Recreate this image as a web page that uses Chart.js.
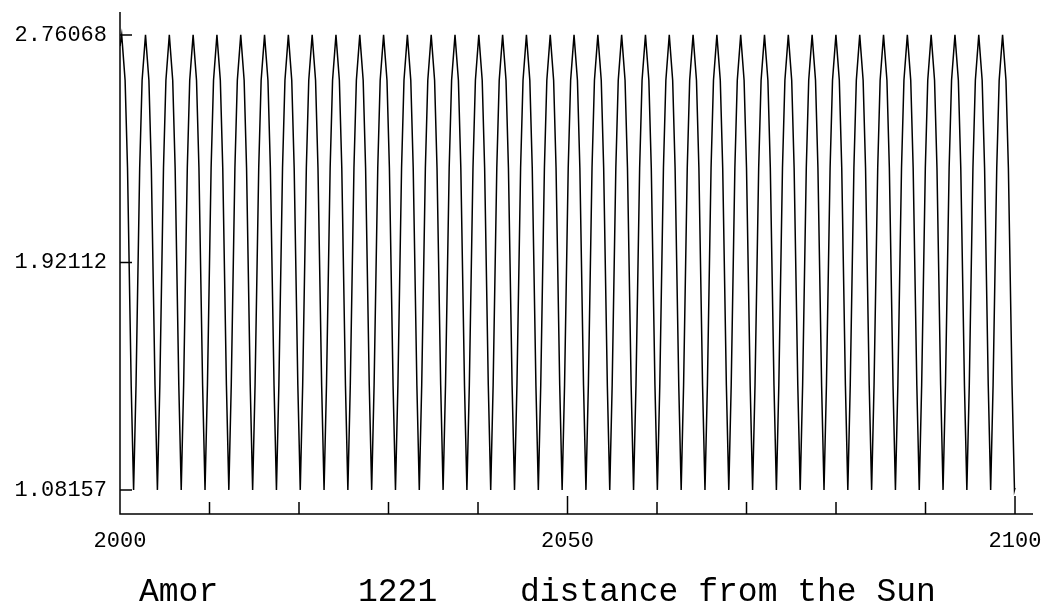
<!DOCTYPE html>
<html>
<head>
<meta charset="utf-8">
<script src="https://cdn.jsdelivr.net/npm/chart.js@4/dist/chart.umd.min.js"></script>
<style>
  html, body { margin: 0; padding: 0; background: #fff; }
  canvas { display: block; }
</style>
</head>
<body>
<canvas id="grafico" width="1044" height="605"></canvas>
<script>
// Amor (1221) — distancia al Sol, 2000-2100

const years = [
  2000.00,
  2000.19, 2000.57, 2000.84, 2001.25, 2001.52, 2001.79, 2002.20, 2002.47,
  2002.85, 2003.23, 2003.50, 2003.91, 2004.18, 2004.45, 2004.86, 2005.13,
  2005.51, 2005.89, 2006.16, 2006.57, 2006.84, 2007.11, 2007.52, 2007.79,
  2008.17, 2008.55, 2008.82, 2009.23, 2009.50, 2009.77, 2010.18, 2010.45,
  2010.83, 2011.21, 2011.48, 2011.89, 2012.16, 2012.43, 2012.84, 2013.11,
  2013.49, 2013.87, 2014.14, 2014.55, 2014.82, 2015.09, 2015.50, 2015.77,
  2016.15, 2016.53, 2016.80, 2017.21, 2017.48, 2017.75, 2018.16, 2018.43,
  2018.81, 2019.19, 2019.46, 2019.87, 2020.14, 2020.41, 2020.82, 2021.09,
  2021.47, 2021.85, 2022.12, 2022.53, 2022.80, 2023.07, 2023.48, 2023.75,
  2024.13, 2024.51, 2024.78, 2025.19, 2025.46, 2025.73, 2026.14, 2026.41,
  2026.79, 2027.17, 2027.44, 2027.85, 2028.12, 2028.39, 2028.80, 2029.07,
  2029.45, 2029.83, 2030.10, 2030.51, 2030.78, 2031.05, 2031.46, 2031.73,
  2032.11, 2032.49, 2032.76, 2033.17, 2033.44, 2033.71, 2034.12, 2034.39,
  2034.77, 2035.15, 2035.42, 2035.83, 2036.10, 2036.37, 2036.78, 2037.05,
  2037.43, 2037.81, 2038.08, 2038.49, 2038.76, 2039.03, 2039.44, 2039.71,
  2040.09, 2040.47, 2040.74, 2041.15, 2041.42, 2041.69, 2042.10, 2042.37,
  2042.75, 2043.13, 2043.40, 2043.81, 2044.08, 2044.35, 2044.76, 2045.03,
  2045.41, 2045.79, 2046.06, 2046.47, 2046.74, 2047.01, 2047.42, 2047.69,
  2048.07, 2048.45, 2048.72, 2049.13, 2049.40, 2049.67, 2050.08, 2050.35,
  2050.73, 2051.11, 2051.38, 2051.79, 2052.06, 2052.33, 2052.74, 2053.01,
  2053.39, 2053.77, 2054.04, 2054.45, 2054.72, 2054.99, 2055.40, 2055.67,
  2056.05, 2056.43, 2056.70, 2057.11, 2057.38, 2057.65, 2058.06, 2058.33,
  2058.71, 2059.09, 2059.36, 2059.77, 2060.04, 2060.31, 2060.72, 2060.99,
  2061.37, 2061.75, 2062.02, 2062.43, 2062.70, 2062.97, 2063.38, 2063.65,
  2064.03, 2064.41, 2064.68, 2065.09, 2065.36, 2065.63, 2066.04, 2066.31,
  2066.69, 2067.07, 2067.34, 2067.75, 2068.02, 2068.29, 2068.70, 2068.97,
  2069.35, 2069.73, 2070.00, 2070.41, 2070.68, 2070.95, 2071.36, 2071.63,
  2072.01, 2072.39, 2072.66, 2073.07, 2073.34, 2073.61, 2074.02, 2074.29,
  2074.67, 2075.05, 2075.32, 2075.73, 2076.00, 2076.27, 2076.68, 2076.95,
  2077.33, 2077.71, 2077.98, 2078.39, 2078.66, 2078.93, 2079.34, 2079.61,
  2079.99, 2080.37, 2080.64, 2081.05, 2081.32, 2081.59, 2082.00, 2082.27,
  2082.65, 2083.03, 2083.30, 2083.71, 2083.98, 2084.25, 2084.66, 2084.93,
  2085.31, 2085.69, 2085.96, 2086.37, 2086.64, 2086.91, 2087.32, 2087.59,
  2087.97, 2088.35, 2088.62, 2089.03, 2089.30, 2089.57, 2089.98, 2090.25,
  2090.63, 2091.01, 2091.28, 2091.69, 2091.96, 2092.23, 2092.64, 2092.91,
  2093.29, 2093.67, 2093.94, 2094.35, 2094.62, 2094.89, 2095.30, 2095.57,
  2095.95, 2096.33, 2096.60, 2097.01, 2097.28, 2097.55, 2097.96, 2098.23,
  2098.61, 2098.99, 2099.26, 2099.67, 2099.94, 2100.00
];

const distance = [
  2.720,
  2.761, 2.594, 2.271, 1.468, 1.082, 1.468, 2.271, 2.594,
  2.761, 2.594, 2.271, 1.468, 1.082, 1.468, 2.271, 2.594,
  2.761, 2.594, 2.271, 1.468, 1.082, 1.468, 2.271, 2.594,
  2.761, 2.594, 2.271, 1.468, 1.082, 1.468, 2.271, 2.594,
  2.761, 2.594, 2.271, 1.468, 1.082, 1.468, 2.271, 2.594,
  2.761, 2.594, 2.271, 1.468, 1.082, 1.468, 2.271, 2.594,
  2.761, 2.594, 2.271, 1.468, 1.082, 1.468, 2.271, 2.594,
  2.761, 2.594, 2.271, 1.468, 1.082, 1.468, 2.271, 2.594,
  2.761, 2.594, 2.271, 1.468, 1.082, 1.468, 2.271, 2.594,
  2.761, 2.594, 2.271, 1.468, 1.082, 1.468, 2.271, 2.594,
  2.761, 2.594, 2.271, 1.468, 1.082, 1.468, 2.271, 2.594,
  2.761, 2.594, 2.271, 1.468, 1.082, 1.468, 2.271, 2.594,
  2.761, 2.594, 2.271, 1.468, 1.082, 1.468, 2.271, 2.594,
  2.761, 2.594, 2.271, 1.468, 1.082, 1.468, 2.271, 2.594,
  2.761, 2.594, 2.271, 1.468, 1.082, 1.468, 2.271, 2.594,
  2.761, 2.594, 2.271, 1.468, 1.082, 1.468, 2.271, 2.594,
  2.761, 2.594, 2.271, 1.468, 1.082, 1.468, 2.271, 2.594,
  2.761, 2.594, 2.271, 1.468, 1.082, 1.468, 2.271, 2.594,
  2.761, 2.594, 2.271, 1.468, 1.082, 1.468, 2.271, 2.594,
  2.761, 2.594, 2.271, 1.468, 1.082, 1.468, 2.271, 2.594,
  2.761, 2.594, 2.271, 1.468, 1.082, 1.468, 2.271, 2.594,
  2.761, 2.594, 2.271, 1.468, 1.082, 1.468, 2.271, 2.594,
  2.761, 2.594, 2.271, 1.468, 1.082, 1.468, 2.271, 2.594,
  2.761, 2.594, 2.271, 1.468, 1.082, 1.468, 2.271, 2.594,
  2.761, 2.594, 2.271, 1.468, 1.082, 1.468, 2.271, 2.594,
  2.761, 2.594, 2.271, 1.468, 1.082, 1.468, 2.271, 2.594,
  2.761, 2.594, 2.271, 1.468, 1.082, 1.468, 2.271, 2.594,
  2.761, 2.594, 2.271, 1.468, 1.082, 1.468, 2.271, 2.594,
  2.761, 2.594, 2.271, 1.468, 1.082, 1.468, 2.271, 2.594,
  2.761, 2.594, 2.271, 1.468, 1.082, 1.468, 2.271, 2.594,
  2.761, 2.594, 2.271, 1.468, 1.082, 1.468, 2.271, 2.594,
  2.761, 2.594, 2.271, 1.468, 1.082, 1.468, 2.271, 2.594,
  2.761, 2.594, 2.271, 1.468, 1.082, 1.468, 2.271, 2.594,
  2.761, 2.594, 2.271, 1.468, 1.082, 1.468, 2.271, 2.594,
  2.761, 2.594, 2.271, 1.468, 1.082, 1.468, 2.271, 2.594,
  2.761, 2.594, 2.271, 1.468, 1.082, 1.468, 2.271, 2.594,
  2.761, 2.594, 2.271, 1.468, 1.082, 1.468, 2.271, 2.594,
  2.761, 2.594, 2.271, 1.468, 1.082, 1.090
];

const yTicks      = [1.08157, 1.92112, 2.76068];
const xLabels     = [2000, 2050, 2100];
const xMinorTicks = [2010, 2020, 2030, 2040, 2060, 2070, 2080, 2090];
const titulo      = ['Amor', '1221', 'distance from the Sun'];

const FUENTE = '"Liberation Mono", "Courier New", monospace';

// Ejes, marcas hacia dentro y título inferior (al estilo del original)
const ejesPlugin = {
  id: 'ejes',
  afterDraw(chart) {
    const { ctx, chartArea: a, scales: { x, y } } = chart;
    ctx.save();
    ctx.strokeStyle = '#000';
    ctx.lineWidth = 1.5;
    ctx.beginPath();
    ctx.moveTo(a.left, a.top);
    ctx.lineTo(a.left, a.bottom);
    ctx.lineTo(a.right, a.bottom);
    yTicks.forEach(v => {
      const py = y.getPixelForValue(v);
      ctx.moveTo(a.left, py);
      ctx.lineTo(a.left + 12, py);
    });
    xMinorTicks.forEach(v => {
      const px = x.getPixelForValue(v);
      ctx.moveTo(px, a.bottom);
      ctx.lineTo(px, a.bottom - 12);
    });
    xLabels.slice(1).forEach(v => {
      const px = x.getPixelForValue(v);
      ctx.moveTo(px, a.bottom);
      ctx.lineTo(px, a.bottom - 18);
    });
    ctx.stroke();

    ctx.fillStyle = '#000';
    ctx.font = '33px ' + FUENTE;
    ctx.textBaseline = 'alphabetic';
    ctx.textAlign = 'left';
    ctx.fillText(titulo[0], 139, 601);
    ctx.fillText(titulo[1], 358, 601);
    ctx.fillText(titulo[2], 520, 601);
    ctx.restore();
  }
};

const puntos = years.map((yr, i) => ({ x: yr, y: distance[i] }));

new Chart(document.getElementById('grafico'), {
  type: 'line',
  data: {
    datasets: [{
      data: puntos,
      borderColor: '#000',
      borderWidth: 1.5,
      pointRadius: 0,
      tension: 0,
      fill: false
    }]
  },
  options: {
    responsive: false,
    animation: false,
    devicePixelRatio: 1,
    layout: { padding: { left: 0, top: 12, right: 11, bottom: 0 } },
    plugins: { legend: { display: false }, tooltip: { enabled: false }, title: { display: false } },
    scales: {
      x: {
        type: 'linear',
        min: 2000,
        max: 2102.01,
        grid: { display: false, drawTicks: false },
        border: { display: false },
        afterBuildTicks: s => { s.ticks = xLabels.map(v => ({ value: v })); },
        afterFit: s => {
          s.height = 91;
          s.paddingLeft = 0;
          s.paddingRight = 0;
        },
        ticks: {
          autoSkip: false,
          maxRotation: 0,
          padding: 14,
          color: '#000',
          font: { family: FUENTE, size: 22 },
          callback: v => String(v)
        }
      },
      y: {
        min: 0.993,
        max: 2.84556,
        grid: { display: false, drawTicks: false },
        border: { display: false },
        afterBuildTicks: s => { s.ticks = yTicks.map(v => ({ value: v })); },
        afterFit: s => {
          s.width = 120;
          s.paddingTop = 0;
          s.paddingBottom = 0;
        },
        ticks: {
          autoSkip: false,
          padding: 13,
          color: '#000',
          font: { family: FUENTE, size: 22 },
          callback: v => v.toFixed(5)
        }
      }
    }
  },
  plugins: [ejesPlugin]
});
</script>
</body>
</html>
